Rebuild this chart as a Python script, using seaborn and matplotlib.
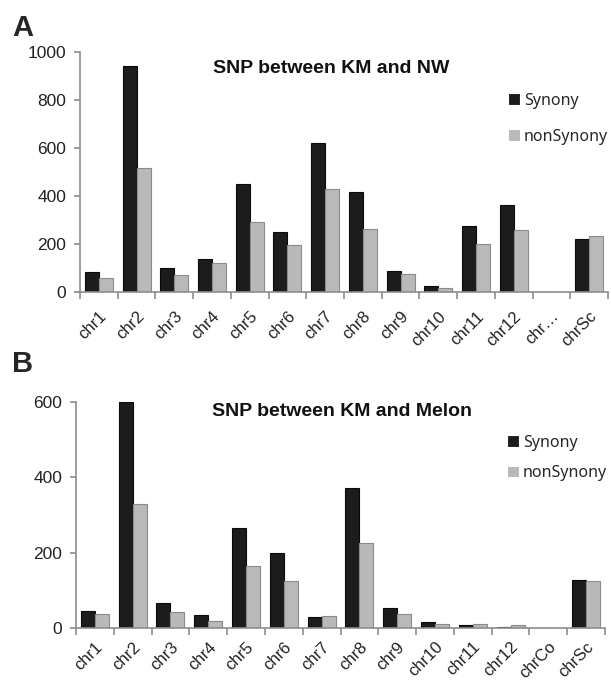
import matplotlib
matplotlib.use("Agg")
import matplotlib.pyplot as plt
import seaborn as sns
import pandas as pd
import numpy as np

# ---- data ----
chroms_a = ["chr1", "chr2", "chr3", "chr4", "chr5", "chr6", "chr7", "chr8",
            "chr9", "chr10", "chr11", "chr12", "chr…", "chrSc"]
syn_a = [82, 940, 100, 138, 448, 252, 622, 418, 86, 25, 273, 361, 0, 220]
nonsyn_a = [57, 515, 71, 121, 291, 194, 428, 261, 75, 15, 198, 258, 0, 232]

chroms_b = ["chr1", "chr2", "chr3", "chr4", "chr5", "chr6", "chr7", "chr8",
            "chr9", "chr10", "chr11", "chr12", "chrCo", "chrSc"]
syn_b = [44, 600, 66, 35, 265, 198, 28, 371, 54, 16, 7, 3, 0, 127]
nonsyn_b = [38, 330, 42, 19, 164, 124, 32, 225, 37, 10, 10, 7, 0, 124]

series = ["Synony", "nonSynony"]
yticks_a = [0, 200, 400, 600, 800, 1000]
yticks_b = [0, 200, 400, 600]

title_a = "SNP between KM and NW"
title_b = "SNP between KM and Melon"

sns.set_style("white")
plt.rcParams["font.family"] = ["Liberation Sans", "DejaVu Sans"]

W, H = 611, 681
fig = plt.figure(figsize=(W / 100, H / 100), dpi=100)

colors = {"Synony": "#1c1c1c", "nonSynony": "#b9b9b9"}
edges = {"Synony": "#0a0a0a", "nonSynony": "#8a8a8a"}
spine_c = "#8c8c8c"


def px_axes(l, r, top, bottom):
    return [l / W, 1 - bottom / H, (r - l) / W, (bottom - top) / H]


def panel(ax, chroms, syn, nonsyn, yticks, title, title_xy, leg_xy,
          leg_space, xpad):
    df = pd.DataFrame({
        "chrom": chroms * 2,
        "type": [series[0]] * len(chroms) + [series[1]] * len(chroms),
        "count": list(syn) + list(nonsyn),
    })
    sns.barplot(data=df, x="chrom", y="count", hue="type", order=chroms,
                hue_order=series, palette=colors, width=0.74, gap=0,
                saturation=1, ax=ax, linewidth=0.8, errorbar=None)
    n = len(chroms)
    for i, p in enumerate(ax.patches[:2 * n]):
        key = series[0] if i < n else series[1]
        p.set_edgecolor(edges[key])
    ax.set_xlim(-0.5, n - 0.5)
    ax.set_ylim(yticks[0], yticks[-1])
    ax.set_yticks(yticks)
    ax.set_xlabel("")
    ax.set_ylabel("")
    for s in ["top", "right"]:
        ax.spines[s].set_visible(False)
    for s in ["left", "bottom"]:
        ax.spines[s].set_color(spine_c)
        ax.spines[s].set_linewidth(1.2)
    ax.set_xticks(np.arange(n))
    ax.set_xticklabels(chroms, rotation=45, ha="right", va="top",
                       rotation_mode="anchor", fontsize=12, color="#222222")
    ax.tick_params(axis="x", which="major", length=0, pad=xpad)
    ax.set_xticks(np.arange(n + 1) - 0.5, minor=True)
    ax.tick_params(axis="x", which="minor", length=5, width=1.2,
                   color=spine_c, direction="out", bottom=True)
    ax.tick_params(axis="y", length=4, width=1.2, color=spine_c,
                   direction="out", left=True, labelsize=12.5,
                   labelcolor="#222222", pad=6)
    ax.text(title_xy[0], title_xy[1], title, transform=ax.transAxes,
            ha="center", va="center", fontsize=14, fontweight="bold",
            color="#111111")
    handles, labels = ax.get_legend_handles_labels()
    ax.legend(handles, labels, loc="upper left", bbox_to_anchor=leg_xy,
              frameon=False, handlelength=0.75, handleheight=0.75,
              handletextpad=0.25, labelspacing=leg_space, borderpad=0,
              borderaxespad=0,
              prop={"family": ["Noto Sans", "DejaVu Sans"], "size": 11.5})


ax_a = fig.add_axes(px_axes(80, 608, 52, 292))
panel(ax_a, chroms_a, syn_a, nonsyn_a, yticks_a, title_a,
      (0.475, 0.933), (0.81, 0.83), 1.25, 12)

ax_b = fig.add_axes(px_axes(76, 605, 402, 628))
panel(ax_b, chroms_b, syn_b, nonsyn_b, yticks_b, title_b,
      (0.503, 0.956), (0.815, 0.855), 0.9, 8)

fig.text(12 / W, 1 - 36 / H, "A", fontsize=21, fontweight="bold",
         ha="left", va="baseline")
fig.text(12 / W, 1 - 372 / H, "B", fontsize=21, fontweight="bold",
         ha="left", va="baseline")

fig.savefig("out.png", dpi=100)
